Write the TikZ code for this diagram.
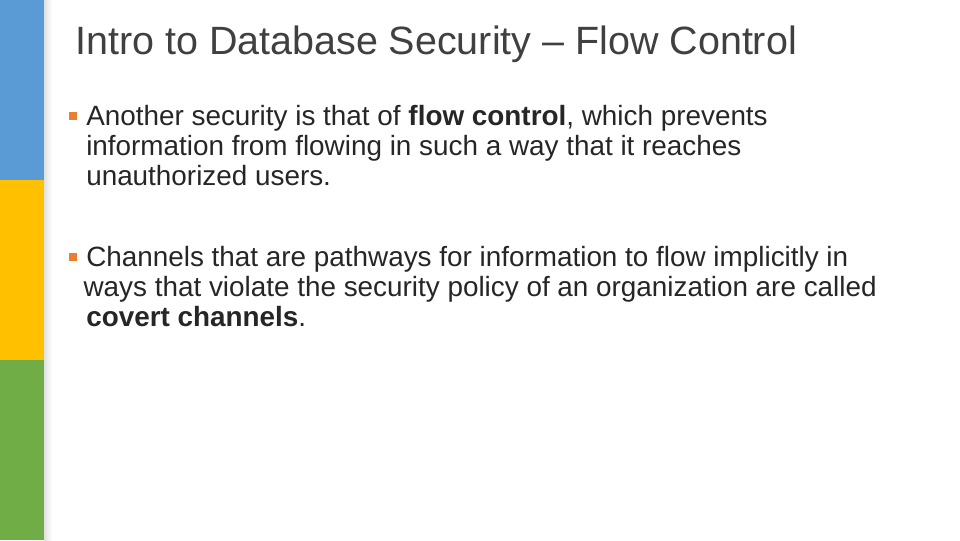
\documentclass[tikz,border=0pt]{standalone}
\usepackage{fontspec}
\setmainfont{Liberation Sans}
\usetikzlibrary{positioning}
\definecolor{barblue}{RGB}{91,155,213}
\definecolor{baryellow}{RGB}{255,192,0}
\definecolor{bargreen}{RGB}{112,173,71}
\definecolor{titlegray}{RGB}{64,64,64}
\definecolor{bulletorange}{RGB}{237,125,49}
\tikzset{
  bodytext/.style={anchor=north west, align=left, inner sep=0pt, text=black!85, font=\fontsize{20.9pt}{22.5pt}\selectfont},
  bulletsq/.style={fill=bulletorange, minimum size=6pt, inner sep=0pt}
}
\begin{document}
\begin{tikzpicture}[x=0.75pt,y=-0.75pt]
  \useasboundingbox (0,0) rectangle (960,540);
  \fill[white] (0,0) rectangle (960,540);
  % side bar
  \fill[barblue] (0,0) rectangle (44,180);
  \fill[baryellow] (0,180) rectangle (44,360);
  \fill[bargreen] (0,360) rectangle (44,540);
  \shade[left color=black!12, right color=white] (44,0) rectangle (52,540);
  % title
  \node[anchor=west, inner sep=0pt, text=titlegray, font=\fontsize{29.6pt}{32pt}\selectfont] (title) at (75,44) {Intro to Database Security -- Flow Control};
  % bullets
  \node[bulletsq] (b1) at (73,116) {};
  \node[bodytext] (t1) at (86,105) {Another security is that of \textbf{flow control}, which prevents\\information from flowing in such a way that it reaches\\unauthorized users.};
  \node[bulletsq] (b2) at (73,257) {};
  \node[bodytext] (t2) at (86,246) {Channels that are pathways for information to flow implicitly in\\\hspace*{-2pt}ways that violate the security policy of an organization are called\\\textbf{covert channels}.};
\end{tikzpicture}
\end{document}
